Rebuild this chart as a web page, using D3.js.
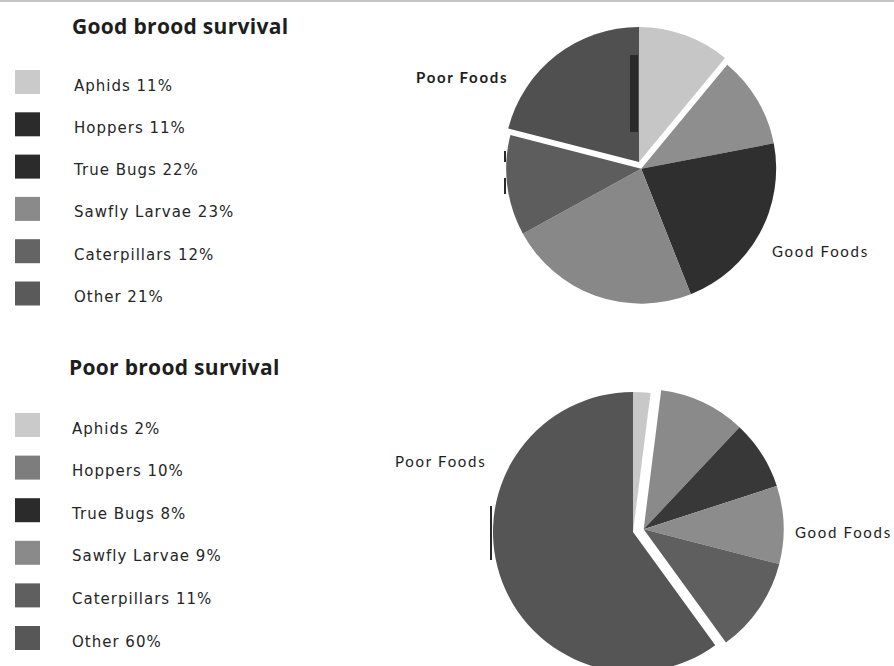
<!DOCTYPE html>
<html>
<head>
<meta charset="utf-8">
<script src="https://cdn.jsdelivr.net/npm/d3@7/dist/d3.min.js"></script>
<style>
  html, body { margin: 0; padding: 0; background: #ffffff; }
  svg { display: block; }
</style>
</head>
<body>
<svg id="chart" width="894" height="666"></svg>
<script>
// Diet composition of broods (percent of items)
const categories = ["Aphids", "Hoppers", "True Bugs", "Sawfly Larvae", "Caterpillars", "Other"];
const goodValues = [11, 11, 22, 23, 12, 21];
const poorValues = [2, 10, 8, 9, 11, 60];
// Which categories count as good foods (the rest are poor foods)
const goodFoodFlags = [false, true, true, true, true, false];

const chartTitles = ["Good brood survival", "Poor brood survival"];
const groupLabels = ["Poor Foods", "Good Foods"];

// Greys used for the wedges and the legend swatches
const goodPieColors = ["#c6c6c6", "#8e8e8e", "#2f2f2f", "#888888", "#5d5d5d", "#505050"];
const goodLegendColors = ["#cacaca", "#2b2b2b", "#2b2b2b", "#8a8a8a", "#646464", "#5a5a5a"];
const poorPieColors = ["#c8c8c8", "#8a8a8a", "#383838", "#8c8c8c", "#5f5f5f", "#555555"];
const poorLegendColors = ["#cacaca", "#7d7d7d", "#2b2b2b", "#8a8a8a", "#5f5f5f", "#575757"];

const svg = d3.select("#chart");

// thin grey rule across the top
svg.append("rect").attr("x", 0).attr("y", 0).attr("width", 894).attr("height", 2).attr("fill", "#c4c4c4");

const panels = [
  {
    title: chartTitles[0], values: goodValues, pieColors: goodPieColors, legendColors: goodLegendColors,
    titleX: 72, titleY: 34, legendTop: 70, textX: 74, rowStep: 42.3,
    cx: 639, cy: 162, r: 135, explode: 7,
    poorLabel: { x: 416, y: 83, weight: 700 }, goodLabel: { x: 772, y: 257, weight: 400 }
  },
  {
    title: chartTitles[1], values: poorValues, pieColors: poorPieColors, legendColors: poorLegendColors,
    titleX: 69, titleY: 375, legendTop: 413, textX: 72, rowStep: 42.6,
    cx: 633, cy: 532, r: 140, explode: 11,
    poorLabel: { x: 395, y: 467, weight: 400 }, goodLabel: { x: 795, y: 538, weight: 400 }
  }
];

const pie = d3.pie().sort(null).value(d => d.value);

panels.forEach(p => {
  const data = categories.map((c, i) => ({ name: c, value: p.values[i], good: goodFoodFlags[i], i }));

  // ---- legend ----
  svg.append("text")
    .attr("x", p.titleX).attr("y", p.titleY)
    .attr("font-family", "'Open Sans', sans-serif")
    .attr("font-weight", 700).attr("font-size", 21)
    .attr("letter-spacing", 0.3)
    .attr("fill", "#1e1e1e")
    .text(p.title);

  const rowScale = d3.scaleLinear().domain([0, 1]).range([p.legendTop, p.legendTop + p.rowStep]);
  const rows = svg.append("g").selectAll("g").data(data).join("g")
    .attr("transform", d => `translate(0,${rowScale(d.i)})`);
  rows.append("rect")
    .attr("x", 15).attr("y", 0).attr("width", 25).attr("height", 24)
    .attr("fill", d => p.legendColors[d.i]);
  rows.append("text")
    .attr("x", p.textX).attr("y", 20.5)
    .attr("font-family", "'DejaVu Sans', sans-serif")
    .attr("font-size", 15).attr("letter-spacing", 1.0)
    .attr("fill", "#262626")
    .text(d => `${d.name} ${d.value}%`);

  // ---- pie ----
  const arcs = pie(data);
  const arc = d3.arc().innerRadius(0).outerRadius(p.r);

  // the good-food wedges are pulled out along their shared mid-angle
  const goodArcs = arcs.filter(a => a.data.good);
  const gStart = d3.min(goodArcs, a => a.startAngle);
  const gEnd = d3.max(goodArcs, a => a.endAngle);
  const mid = (gStart + gEnd) / 2;
  const dx = Math.sin(mid) * p.explode;
  const dy = -Math.cos(mid) * p.explode;

  const pieG = svg.append("g").attr("transform", `translate(${p.cx},${p.cy})`);
  pieG.selectAll("path").data(arcs).join("path")
    .attr("d", arc)
    .attr("transform", d => d.data.good ? `translate(${dx},${dy})` : null)
    .attr("fill", d => p.pieColors[d.data.i]);

  // group labels
  [[groupLabels[0], p.poorLabel], [groupLabels[1], p.goodLabel]].forEach(([txt, pos]) => {
    svg.append("text")
      .attr("x", pos.x).attr("y", pos.y)
      .attr("font-family", "Lato, sans-serif")
      .attr("font-weight", pos.weight).attr("font-size", 15)
      .attr("letter-spacing", 1.7)
      .attr("fill", "#1e1e1e")
      .text(txt);
  });
});

// dark printing marks on the pies
svg.append("rect").attr("x", 630).attr("y", 55).attr("width", 8).attr("height", 77).attr("fill", "#2a2a2a");
svg.append("rect").attr("x", 504).attr("y", 151).attr("width", 2).attr("height", 11).attr("fill", "#2a2a2a");
svg.append("rect").attr("x", 504).attr("y", 178).attr("width", 2).attr("height", 16).attr("fill", "#2a2a2a");
svg.append("rect").attr("x", 490).attr("y", 506).attr("width", 2).attr("height", 54).attr("fill", "#2a2a2a");
</script>
</body>
</html>
